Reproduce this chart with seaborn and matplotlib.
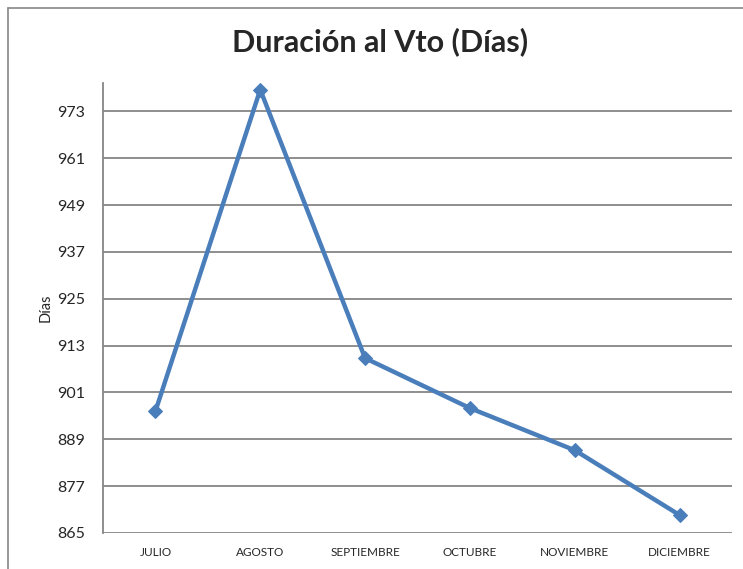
import matplotlib
matplotlib.use("Agg")
import matplotlib.pyplot as plt
import seaborn as sns
import pandas as pd
from matplotlib.lines import Line2D

# Data
meses = ["JULIO", "AGOSTO", "SEPTIEMBRE", "OCTUBRE", "NOVIEMBRE", "DICIEMBRE"]
dias = [896.2, 978.6, 909.8, 897.0, 886.2, 869.6]
y_ticks = [865, 877, 889, 901, 913, 925, 937, 949, 961, 973]

df = pd.DataFrame({"Mes": meses, "Dias": dias})

sns.set_style("white")
plt.rcParams["font.family"] = ["Lato", "DejaVu Sans"]

fig = plt.figure(figsize=(7.43, 5.69), dpi=100)
ax = fig.add_axes([103 / 743, 1 - 533 / 569, 629 / 743, (533 - 83) / 569])

sns.lineplot(data=df, x="Mes", y="Dias", sort=False, ax=ax,
             color="#4a7ebb", linewidth=3.2, marker="D", markersize=7,
             markeredgecolor="#4a7ebb", markerfacecolor="#4a7ebb")

ax.set_xlim(-0.5, len(meses) - 0.5)
ax.set_ylim(865, 980.3)
ax.set_yticks(y_ticks)
ax.set_yticklabels([str(v) for v in y_ticks], fontsize=11.5)
ax.set_xticks(range(len(meses)))
ax.set_xticklabels(meses, fontsize=8.5)
ax.tick_params(axis="x", length=0, pad=10)
ax.tick_params(axis="y", length=0, pad=13)

for v in y_ticks:
    ax.axhline(v, color="#868686", linewidth=1.3, zorder=0)

for s in ["top", "right"]:
    ax.spines[s].set_visible(False)
ax.spines["left"].set_color("#868686")
ax.spines["left"].set_linewidth(1.3)
ax.spines["bottom"].set_visible(False)

ax.set_xlabel("")
ax.set_ylabel("Días", fontsize=10.5, labelpad=3)

fig.text(380 / 743, 1 - 42 / 569, "Duración al Vto (Días)", ha="center", va="center",
         fontsize=22, fontweight="bold")

# outer chart frame (top and left edges visible)
fig.add_artist(Line2D([8 / 743, 1], [1 - 8 / 569, 1 - 8 / 569], transform=fig.transFigure,
                      color="#868686", linewidth=1.2))
fig.add_artist(Line2D([8 / 743, 8 / 743], [0, 1 - 8 / 569], transform=fig.transFigure,
                      color="#868686", linewidth=1.2))

fig.savefig("out.png", dpi=100)
